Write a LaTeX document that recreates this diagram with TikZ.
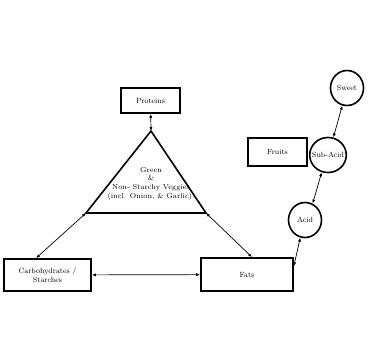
\documentclass[tikz,border=0pt]{standalone}
\usepackage{tikz}
\usetikzlibrary{positioning, arrows.meta, shapes.geometric, calc}

\begin{document}
\begin{tikzpicture}[
  x=1pt, y=-1pt,
  group/.style={draw, line width=1.6pt, align=center, inner sep=1pt, font=\fontsize{7.5}{9}\selectfont},
  taste/.style={ellipse, draw, line width=1.6pt, minimum width=33pt, minimum height=35pt, inner sep=-3pt, font=\fontsize{7.5}{9}\selectfont},
  link/.style={{Latex[length=4pt,width=3pt]}-{Latex[length=4pt,width=3pt]}, line width=0.7pt}
]
  \useasboundingbox (0,0) rectangle (369,361);

  % food groups
  \node[group, minimum width=59pt, minimum height=25pt] (prot) at (150.5,100.5) {Proteins};
  \node[group, minimum width=87pt, minimum height=32pt] (carb) at (47.5,275) {Carbohydrates /\\Starches};
  \node[group, minimum width=92pt, minimum height=33pt] (fats) at (247,274.5) {Fats};
  \node[group, minimum width=59pt, minimum height=28pt] (fruit) at (277.5,152) {Fruits};

  % veggie triangle
  \coordinate (top) at (151,131);
  \coordinate (tl) at (86,213);
  \coordinate (tr) at (206,213);
  \draw[line width=1.6pt, line join=miter] (top) -- (tr) -- (tl) -- cycle;
  \node[align=center, font=\fontsize{7.3}{8.7}\selectfont] (veg) at (151,183.5) {Green\\\&\\Non- Starchy Veggies\\(incl. Onion, \& Garlic).};

  % fruit tastes
  \node[taste] (sweet) at (347,88) {Sweet};
  \node[taste] (sub) at (328,155) {Sub-Acid};
  \node[taste] (acid) at (305,220) {Acid};

  \draw[link] (prot) -- (top);
  \draw[link] (tl) -- ([xshift=-11.5pt]carb.north);
  \draw[link] (tr) -- ([xshift=5pt]fats.north);
  \draw[link] (carb) -- (fats);
  \draw[link] ([yshift=-9pt]fats.north east) -- (acid.255);
  \draw[link] (acid.65) -- (sub.250);
  \draw[link] (sub.73) -- (sweet.255);
\end{tikzpicture}
\end{document}
